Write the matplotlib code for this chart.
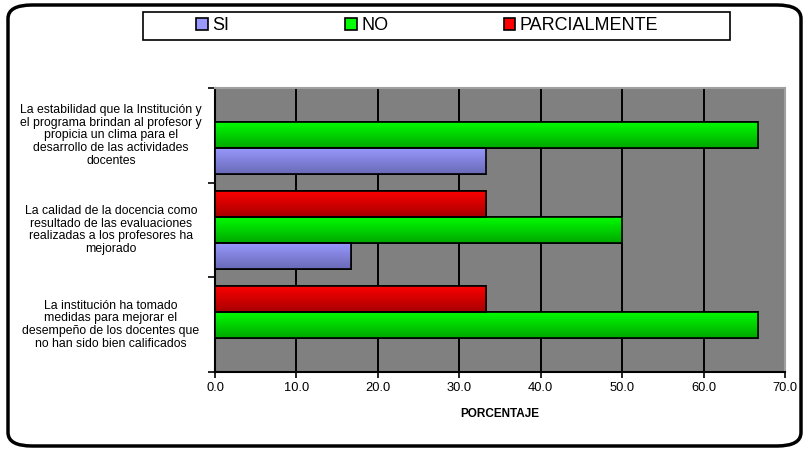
import matplotlib
matplotlib.use("Agg")
import matplotlib.pyplot as plt
import numpy as np
from matplotlib.patches import FancyBboxPatch, Rectangle

plt.rcParams['font.family'] = ['Liberation Sans', 'DejaVu Sans']

categories = [
    "La institución ha tomado\nmedidas para mejorar el\ndesempeño de los docentes que\nno han sido bien calificados",
    "La calidad de la docencia como\nresultado de las evaluaciones\nrealizadas a los profesores ha\nmejorado",
    "La estabilidad que la Institución y\nel programa brindan al profesor y\npropicia un clima para el\ndesarrollo de las actividades\ndocentes",
]
series_names = ["SI", "NO", "PARCIALMENTE"]
si_vals = [0.0, 16.7, 33.3]
no_vals = [66.7, 50.0, 66.7]
parc_vals = [33.3, 33.3, 0.0]
xticks = [0, 10, 20, 30, 40, 50, 60, 70]

colors = ["#9999ff", "#00ff00", "#ff0000"]
dark = ["#6a6ab8", "#00a800", "#a80000"]

fig = plt.figure(figsize=(8.05, 4.5), dpi=100)

# outer rounded border
border = FancyBboxPatch((8/805, 4/450), 793/805, 441/450,
                        boxstyle="round,pad=0,rounding_size=0.03",
                        transform=fig.transFigure, fill=False,
                        edgecolor="black", linewidth=2.5, clip_on=False)
fig.patches.append(border)

ax = fig.add_axes([215/805, 1 - 372/450, 570/805, 284/450])
ax.set_facecolor("#808080")
ax.set_xlim(0, 70)
ax.set_ylim(-0.5, 2.5)

y = np.arange(len(categories))
h = 0.275
vals = [si_vals, no_vals, parc_vals]
offsets = [-h, 0, h]

ax.set_axisbelow(True)
ax.xaxis.grid(True, color="black", linewidth=1.4)

for i, (v, off) in enumerate(zip(vals, offsets)):
    bars = ax.barh(y + off, v, height=h, color=colors[i],
                   edgecolor="black", linewidth=1.2, label=series_names[i], zorder=3)
    for b in bars:
        x0, y0 = b.get_x(), b.get_y()
        w, hh = b.get_width(), b.get_height()
        if w <= 0:
            continue
        c1 = np.array(matplotlib.colors.to_rgb(colors[i]))
        c2 = np.array(matplotlib.colors.to_rgb(dark[i]))
        img = np.zeros((50, 1, 3))
        for k in range(50):
            t = k / 49.0
            img[k, 0, :] = c1 * (1 - t) + c2 * t
        im = ax.imshow(img, extent=[x0, x0 + w, y0, y0 + hh], origin="upper",
                       aspect="auto", zorder=3.5, interpolation="bilinear")
        im.set_clip_path(b)
        ax.add_patch(Rectangle((x0, y0), w, hh, fill=False, edgecolor="black",
                               linewidth=1.2, zorder=4))

ax.set_yticks([-0.5, 0.5, 1.5, 2.5])
ax.set_yticklabels([])
ax.tick_params(axis="y", length=5, width=1.2, direction="out")
for yi, lab in zip(y, categories):
    ax.annotate(lab, xy=(0, yi), xycoords=("axes fraction", "data"),
                xytext=(-75, 0), textcoords="offset points",
                ha="center", va="center", fontsize=8.8, linespacing=1.08)

ax.set_xticks(xticks)
ax.set_xticklabels([f"{t:.1f}" for t in xticks], fontsize=9.3)
ax.tick_params(axis="x", length=4, width=1.2, direction="out", pad=3)
ax.set_xlabel("PORCENTAJE", fontsize=8.5, fontweight="bold", labelpad=10)

for s in ["left", "bottom"]:
    ax.spines[s].set_linewidth(1.5)
    ax.spines[s].set_color("black")
for s in ["top", "right"]:
    ax.spines[s].set_color("#a0a0a0")
    ax.spines[s].set_linewidth(1.5)

# legend frame
fig.patches.append(Rectangle((143/805, 1 - 40/450), 587/805, 28/450,
                             transform=fig.transFigure, fill=False,
                             edgecolor="black", linewidth=1.2))
handles, labels = ax.get_legend_handles_labels()
leg = fig.legend(handles, labels, loc="center left", ncol=3,
                 bbox_to_anchor=(196/805, 1 - 26/450),
                 frameon=False, fontsize=13,
                 handlelength=0.65, handleheight=0.65, handletextpad=0.25,
                 borderaxespad=0, borderpad=0, columnspacing=6.4)

fig.savefig("out.png", dpi=100)
